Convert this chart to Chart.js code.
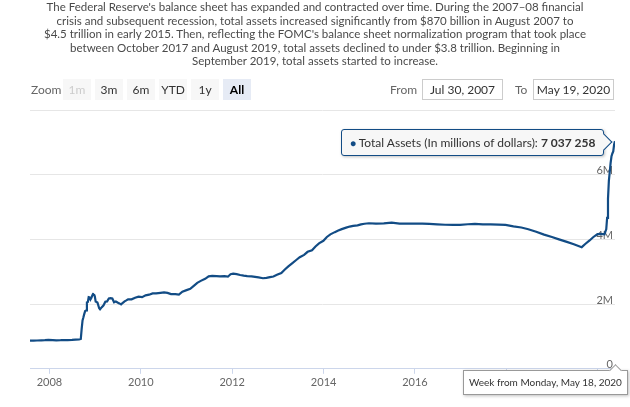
<!DOCTYPE html>
<html>
<head>
<meta charset="utf-8">
<script src="https://cdn.jsdelivr.net/npm/chart.js@4.4.1/dist/chart.umd.min.js"></script>
<style>
html,body{margin:0;padding:0;background:#fff;}
body{width:630px;height:407px;position:relative;overflow:hidden;font-family:Lato,"Open Sans",sans-serif;}
#chart{position:absolute;left:0;top:0;}
.intro{position:absolute;left:0;top:0;width:630px;text-align:center;font-size:11.5px;line-height:13.6px;color:#4a4a4a;white-space:nowrap;}
.lbl{position:absolute;top:81px;font-size:12px;line-height:17px;color:#666;}
.btn{position:absolute;top:79px;width:28px;height:21px;line-height:21px;text-align:center;background:#f7f7f7;color:#333;font-size:12px;}
.btn.off{color:#ccc;}
.btn.on{background:#e6ebf5;color:#000;font-weight:bold;}
.inp{position:absolute;top:79px;width:79px;height:19px;line-height:19px;border:1px solid #ccc;text-align:center;font-size:12px;color:#333;}
#tip{position:absolute;height:25px;line-height:25px;padding:0 8px;background:#f7f7f7;border:1px solid #124c85;border-radius:3px;box-shadow:1px 1px 3px rgba(0,0,0,0.25);font-size:12px;color:#333;white-space:nowrap;}
#tip::after{content:'';position:absolute;right:-7px;top:50%;width:11px;height:11px;margin-top:-6px;background:#f7f7f7;border-top:1px solid #124c85;border-right:1px solid #124c85;transform:rotate(45deg);}
#tip .dot{color:#124c85;font-size:10px;}
#week{position:absolute;height:23px;line-height:23px;padding:0 5px;background:#fff;border:1px solid #999;box-shadow:1px 1px 3px rgba(0,0,0,0.25);font-size:10px;color:#333;white-space:nowrap;}
#week::before{content:'';position:absolute;top:-5px;width:8px;height:8px;background:#fff;border-top:1px solid #999;border-left:1px solid #999;transform:rotate(45deg);}
</style>
</head>
<body>
<canvas id="chart" width="630" height="407"></canvas>
<div class="intro">The Federal Reserve's balance sheet has expanded and contracted over time. During the 2007–08 financial<br>crisis and subsequent recession, total assets increased significantly from $870 billion in August 2007 to<br>$4.5 trillion in early 2015. Then, reflecting the FOMC's balance sheet normalization program that took place<br>between October 2017 and August 2019, total assets declined to under $3.8 trillion. Beginning in<br>September 2019, total assets started to increase.</div>
<div class="lbl" style="left:31px">Zoom</div>
<div class="btn off" style="left:63px">1m</div>
<div class="btn" style="left:95px">3m</div>
<div class="btn" style="left:127px">6m</div>
<div class="btn" style="left:159px">YTD</div>
<div class="btn" style="left:191px">1y</div>
<div class="btn on" style="left:223px">All</div>
<div class="lbl" style="left:390px">From</div>
<div class="inp" style="left:422px">Jul 30, 2007</div>
<div class="lbl" style="left:515px">To</div>
<div class="inp" style="left:533px">May 19, 2020</div>
<div id="tip"></div>
<div id="week"></div>
<script>
const seriesName = 'Total Assets (In millions of dollars)';
const seriesColor = '#124c85';

const weekDates = [
  '2007-07-30','2007-08-27','2007-09-24','2007-10-29','2007-11-26','2007-12-24',
  '2008-01-28','2008-02-25','2008-03-31','2008-04-28','2008-05-26','2008-06-30','2008-07-28','2008-08-25',
  '2008-09-08','2008-09-15','2008-09-22','2008-09-29','2008-10-06','2008-10-13','2008-10-20','2008-10-27',
  '2008-11-03','2008-11-10','2008-11-17','2008-11-24','2008-12-01','2008-12-08','2008-12-15','2008-12-22','2008-12-29',
  '2009-01-05','2009-01-19','2009-02-02','2009-02-09','2009-02-23','2009-03-09','2009-03-23','2009-04-06','2009-04-20',
  '2009-05-04','2009-05-18','2009-06-01','2009-06-15','2009-06-29','2009-07-13','2009-07-27','2009-08-10','2009-08-24',
  '2009-09-07','2009-09-21','2009-10-19','2009-11-16','2009-12-14',
  '2010-01-11','2010-02-08','2010-03-08','2010-04-05','2010-05-03','2010-06-07','2010-07-05','2010-08-02','2010-08-30',
  '2010-10-04','2010-11-01','2010-11-29','2010-12-27',
  '2011-01-31','2011-02-28','2011-03-28','2011-04-25','2011-05-30','2011-06-27','2011-07-25','2011-08-29','2011-09-26',
  '2011-10-31','2011-11-28','2011-12-19',
  '2012-01-09','2012-02-06','2012-03-05','2012-04-02','2012-04-30','2012-06-04','2012-07-02','2012-07-30','2012-09-03',
  '2012-10-01','2012-10-29','2012-11-26','2012-12-24',
  '2013-01-28','2013-02-25','2013-03-25','2013-04-29','2013-05-27','2013-06-24','2013-07-29','2013-08-26','2013-09-30',
  '2013-10-28','2013-11-25','2013-12-30',
  '2014-01-27','2014-02-24','2014-03-31','2014-04-28','2014-05-26','2014-06-30','2014-07-28','2014-08-25','2014-09-29',
  '2014-10-27','2014-11-24','2014-12-29',
  '2015-02-23','2015-04-27','2015-06-29','2015-08-31','2015-10-26','2015-12-28',
  '2016-02-29','2016-04-25','2016-06-27','2016-08-29','2016-10-31','2016-12-26',
  '2017-02-27','2017-04-24','2017-06-26','2017-08-28','2017-10-30','2017-12-25',
  '2018-02-26','2018-04-30','2018-06-25','2018-08-27','2018-10-29','2018-12-31',
  '2019-02-25','2019-04-29','2019-06-24','2019-08-26','2019-09-23','2019-10-28','2019-11-25','2019-12-30',
  '2020-01-27','2020-02-24','2020-03-02','2020-03-09','2020-03-16','2020-03-23','2020-03-30','2020-04-06',
  '2020-04-13','2020-04-20','2020-04-27','2020-05-04','2020-05-11','2020-05-18'
];

// millions of dollars
const totalAssets = [
  869155,871902,874211,879037,883512,891683,
  889112,880974,884560,890331,887402,894118,902467,905210,
  924581,1231460,1496982,1593010,1698220,1786450,1802410,2049200,
  2062660,2214130,2206000,2138380,2184080,2256500,2312160,2309680,2240950,
  2077910,2049120,1872350,1840020,1905660,1964450,2072940,2081880,2176320,
  2186100,2175240,2057210,2079450,2049160,2021180,1990630,2040140,2085200,
  2115300,2150230,2147040,2197010,2230410,
  2215420,2270310,2290510,2331300,2333150,2349420,2363170,2346010,2308140,
  2308260,2297050,2384670,2423450,
  2473780,2564430,2658050,2717880,2781460,2856970,2870450,2863370,2855790,
  2861610,2847640,2924370,
  2938720,2926590,2901010,2878660,2865230,2858470,2840890,2825100,2799760,
  2809560,2833810,2852940,2906510,
  2958700,3067870,3165850,3272960,3362570,3448230,3522660,3616090,3664880,
  3782020,3877240,3956340,
  4075450,4154840,4224530,4272810,4317570,4363490,4396890,4418170,4432370,
  4464850,4484260,4498620,
  4489720,4495990,4516840,4485300,4491900,4486420,
  4487960,4478950,4466430,4453570,4451150,4451610,
  4468090,4481350,4463070,4463960,4456950,4448870,
  4401730,4366920,4315190,4237060,4148410,4075870,
  4001080,3922330,3849360,3760150,3857820,3967400,4067080,4165960,
  4169680,4158700,4241440,4311240,4666520,5254050,5810450,6083130,
  6367840,6569420,6655690,6721770,6934010,7037258
];

const yearTicks = [2008, 2010, 2012, 2014, 2016, 2018, 2020];
const valueTicks = [0, 2000000, 4000000, 6000000, 8000000];

const points = weekDates.map((d, i) => ({x: Date.parse(d), y: totalAssets[i]}));

const ctx = document.getElementById('chart').getContext('2d');
const assetsChart = new Chart(ctx, {
    type: 'line',
    data: {
        datasets: [{
            label: seriesName,
            data: points,
            borderColor: seriesColor,
            borderWidth: 2.2,
            pointRadius: 0,
            tension: 0,
            fill: false,
        }]
    },
    options: {
        responsive: false,
        animation: false,
        events: [],
        layout: {
            padding: {left: 30, right: 15, top: 110, bottom: 16}
        },
        plugins: {
            legend: {display: false},
            tooltip: {enabled: false}
        },
        scales: {
            x: {
                type: 'linear',
                min: points[0].x,
                max: points[points.length - 1].x,
                afterBuildTicks: (scale) => {
                    scale.ticks = yearTicks.map(y => ({value: Date.UTC(y, 0, 1)}));
                },
                grid: {
                    drawOnChartArea: false,
                    drawTicks: true,
                    tickLength: 5,
                    color: '#ccd6eb'
                },
                border: {color: '#ccd6eb', width: 1},
                ticks: {
                    color: '#666',
                    font: {family: 'Lato', size: 11},
                    padding: 2,
                    maxRotation: 0,
                    callback: (value) => new Date(value).getUTCFullYear()
                }
            },
            y: {
                position: 'right',
                min: 0,
                max: 8000000,
                afterBuildTicks: (scale) => {
                    scale.ticks = valueTicks.map(v => ({value: v}));
                },
                grid: {
                    color: '#e6e6e6',
                    drawTicks: false
                },
                border: {display: false},
                ticks: {
                    mirror: true,
                    padding: -2,
                    labelOffset: -4,
                    color: '#666',
                    font: {family: 'Lato', size: 11},
                    callback: (value) => value === 0 ? '0' : (value >= 8000000 ? '' : (value / 1000000) + 'M')
                }
            }
        }
    }
});

// hovered point: last week
const lastIdx = points.length - 1;
const lastPt = assetsChart.getDatasetMeta(0).data[lastIdx];
const fmt = (n) => String(n).replace(/\B(?=(\d{3})+(?!\d))/g, ' ');

const tip = document.getElementById('tip');
tip.innerHTML = '<span class="dot">\u25CF</span> ' + seriesName + ': <b>' + fmt(totalAssets[lastIdx]) + '</b>';
tip.style.left = (lastPt.x - 11 - tip.offsetWidth) + 'px';
tip.style.top = (lastPt.y - tip.offsetHeight / 2 + 1) + 'px';

const week = document.getElementById('week');
const wd = new Date(points[lastIdx].x);
const months = ['January','February','March','April','May','June','July','August','September','October','November','December'];
const days = ['Sunday','Monday','Tuesday','Wednesday','Thursday','Friday','Saturday'];
week.textContent = 'Week from ' + days[wd.getUTCDay()] + ', ' + months[wd.getUTCMonth()] + ' ' + wd.getUTCDate() + ', ' + wd.getUTCFullYear();
const area = assetsChart.chartArea;
week.style.left = (lastPt.x + 13 - week.offsetWidth) + 'px';
week.style.top = (area.bottom + 1) + 'px';
const notch = document.createElement('style');
notch.textContent = '#week::before{left:' + (week.offsetWidth - 13 - 5) + 'px;}';
document.head.appendChild(notch);
</script>
</body>
</html>
